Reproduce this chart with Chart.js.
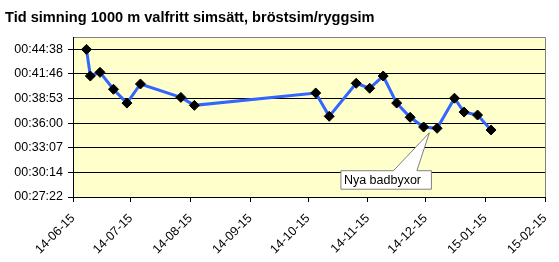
<!DOCTYPE html>
<html>
<head>
<meta charset="utf-8">
<script src="https://cdn.jsdelivr.net/npm/chart.js@4"></script>
<style>
  html, body { margin: 0; padding: 0; background: #fff; }
  #wrap { width: 559px; height: 262px; }
</style>
</head>
<body>
<div id="wrap"><canvas id="myChart" width="559" height="262"></canvas></div>
<script>
// swim dates and times (mm:ss)
const dates = ['2014-06-22', '2014-06-24', '2014-06-29', '2014-07-06', '2014-07-13', '2014-07-20',
  '2014-08-10', '2014-08-17', '2014-10-19', '2014-10-26', '2014-11-09', '2014-11-16',
  '2014-11-23', '2014-11-30', '2014-12-07', '2014-12-14', '2014-12-21', '2014-12-30',
  '2015-01-04', '2015-01-11', '2015-01-18'];
const times = ['44:38', '41:31', '41:57', '39:58', '38:21', '40:35',
  '39:01', '38:05', '39:32', '36:48', '40:40', '40:05',
  '41:31', '38:21', '36:41', '35:33', '35:24', '38:55',
  '37:18', '36:57', '35:12'];
const tickDates = ['2014-06-15', '2014-07-15', '2014-08-15', '2014-09-15', '2014-10-15',
  '2014-11-15', '2014-12-15', '2015-01-15', '2015-02-15'];
// Excel axis in days: 0.019 .. 0.032, major unit 0.002
const yTickDays = [0.019, 0.021, 0.023, 0.025, 0.027, 0.029, 0.031];
const noteText = 'Nya badbyxor';
const noteDate = '2014-12-17';
const noteTime = '34:53';

const DAY = 86400000;
const start = Date.UTC(2014, 5, 15);
function toDay(s) {
  const p = s.split('-');
  return (Date.UTC(+p[0], +p[1] - 1, +p[2]) - start) / DAY;
}
function toSec(s) {
  const p = s.split(':');
  return +p[0] * 60 + +p[1];
}
function pad(n) { return (n < 10 ? '0' : '') + n; }
function fmtTime(sec) {
  const t = Math.round(sec);
  return '00:' + pad(Math.floor(t / 60)) + ':' + pad(t % 60);
}
function fmtDate(d) {
  const dt = new Date(start + Math.round(d) * DAY);
  return pad(dt.getUTCFullYear() % 100) + '-' + pad(dt.getUTCMonth() + 1) + '-' + pad(dt.getUTCDate());
}

const points = dates.map((d, i) => ({ x: toDay(d), y: toSec(times[i]) }));
const font = { family: 'Arial, "Liberation Sans", sans-serif', size: 12.5 };

const plotBg = {
  id: 'plotBg',
  beforeDraw(chart) {
    const { ctx, chartArea: a } = chart;
    ctx.save();
    ctx.fillStyle = '#FFFFCC';
    ctx.fillRect(a.left, a.top, a.right - a.left, a.bottom - a.top);
    ctx.strokeStyle = '#808080';
    ctx.lineWidth = 1;
    ctx.beginPath();
    ctx.moveTo(a.left, a.top + 0.5);
    ctx.lineTo(a.right + 0.5, a.top + 0.5);
    ctx.lineTo(a.right + 0.5, a.bottom);
    ctx.stroke();
    ctx.restore();
  }
};

const callout = {
  id: 'callout',
  afterDatasetsDraw(chart) {
    const { ctx, scales } = chart;
    const tx = scales.x.getPixelForValue(toDay(noteDate));
    const ty = scales.y.getPixelForValue(toSec(noteTime));
    const l = tx - 88.5, r = tx + 2, t = ty + 38, b = ty + 56.5;
    ctx.save();
    ctx.beginPath();
    ctx.moveTo(l, t);
    ctx.lineTo(tx - 36, t);
    ctx.lineTo(tx, ty);
    ctx.lineTo(tx - 12.5, t);
    ctx.lineTo(r, t);
    ctx.lineTo(r, b);
    ctx.lineTo(l, b);
    ctx.closePath();
    ctx.fillStyle = '#fff';
    ctx.fill();
    ctx.strokeStyle = '#808080';
    ctx.lineWidth = 1;
    ctx.stroke();
    ctx.fillStyle = '#000';
    ctx.font = '12.5px Arial, "Liberation Sans", sans-serif';
    ctx.textBaseline = 'middle';
    ctx.fillText(noteText, l + 3, (t + b) / 2 + 0.5);
    ctx.restore();
  }
};

new Chart(document.getElementById('myChart').getContext('2d'), {
  type: 'line',
  data: {
    datasets: [{
      label: 'Tid',
      data: points,
      borderColor: '#3366FF',
      borderWidth: 3,
      tension: 0,
      pointStyle: 'rectRot',
      pointRadius: 5,
      pointBackgroundColor: '#000',
      pointBorderColor: '#000',
      pointBorderWidth: 1
    }]
  },
  options: {
    responsive: false,
    animation: false,
    layout: { padding: { left: 5, right: 14, top: 0, bottom: 0 } },
    plugins: {
      legend: { display: false },
      tooltip: { enabled: false },
      title: {
        display: true,
        text: 'Tid simning 1000 m valfritt simsätt, bröstsim/ryggsim',
        align: 'start',
        color: '#000',
        font: { family: 'Arial, "Liberation Sans", sans-serif', size: 14.6, weight: 'bold' },
        padding: { top: 9, bottom: 10.5 }
      }
    },
    scales: {
      x: {
        type: 'linear',
        min: 0,
        max: toDay(tickDates[tickDates.length - 1]),
        afterBuildTicks(axis) {
          axis.ticks = tickDates.map(d => ({ value: toDay(d) }));
        },
        afterFit(axis) {
          axis.height = 65;
          axis.paddingLeft = 0;
          axis.paddingRight = 0;
        },
        ticks: {
          color: '#000',
          font: font,
          minRotation: 45,
          maxRotation: 45,
          padding: 9,
          callback: v => fmtDate(v)
        },
        grid: { drawOnChartArea: false, color: '#000', tickLength: 5 },
        border: { color: '#000' }
      },
      y: {
        min: 0.019 * 86400,
        max: 0.032 * 86400,
        afterBuildTicks(axis) {
          axis.ticks = yTickDays.map(d => ({ value: d * 86400 }));
        },
        afterFit(axis) { axis.width = 68; },
        ticks: {
          color: '#000',
          font: font,
          padding: 5,
          callback: v => fmtTime(v)
        },
        grid: { color: '#000', tickLength: 5 },
        border: { color: '#000' }
      }
    }
  },
  plugins: [plotBg, callout]
});
</script>
</body>
</html>
